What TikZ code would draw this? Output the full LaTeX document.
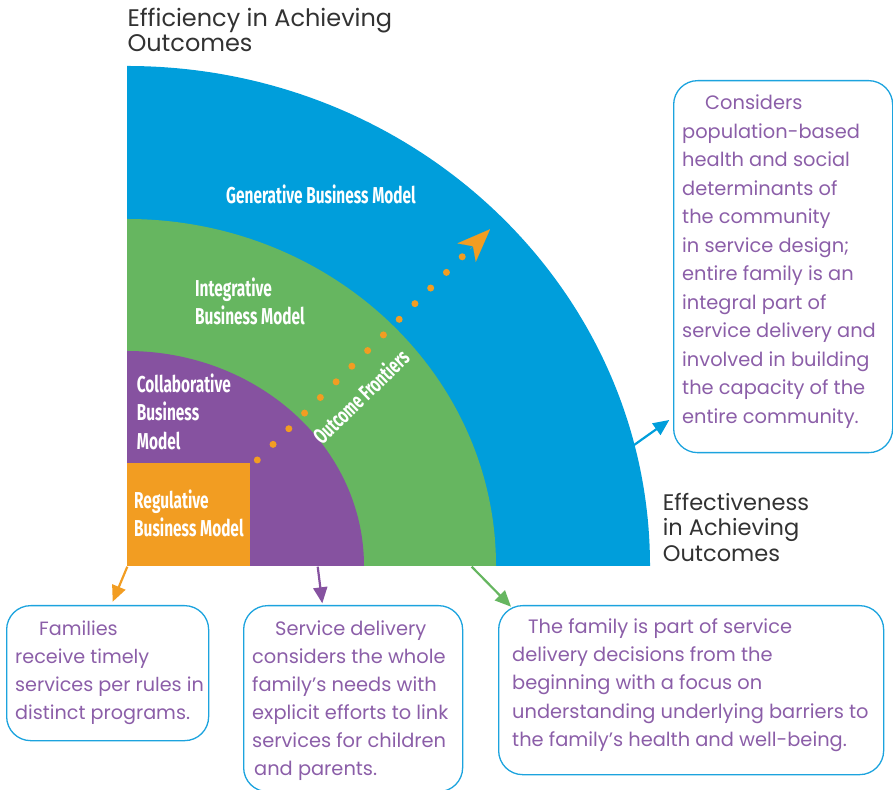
\documentclass[tikz,border=0pt]{standalone}
\usepackage{fontspec}
\setmainfont{Poppins}
\newfontfamily\labfont{Fira Sans}[FakeStretch=0.67]
\usetikzlibrary{arrows.meta}
\definecolor{cblue}{RGB}{0,158,219}
\definecolor{cgreen}{RGB}{102,182,96}
\definecolor{cpurple}{RGB}{134,82,160}
\definecolor{corange}{RGB}{242,157,34}
\definecolor{ctext}{RGB}{139,94,168}
\definecolor{cline}{RGB}{28,163,222}
\definecolor{cgray}{RGB}{50,50,50}
\tikzset{
  lab/.style={text=white, inner sep=0pt, font=\labfont\bfseries\fontsize{23}{28.3}\selectfont, align=left},
  axis/.style={text=cgray, inner sep=0pt, align=left},
  box/.style={draw=cline, line width=1.3pt, rounded corners=24pt, anchor=north west, inner sep=0pt},
  boxtext/.style={text=ctext, inner sep=0pt, align=left, anchor=base west},
  conn/.style={line width=2.2pt, -{Triangle[length=16pt,width=14pt]}}
}
\begin{document}
\begin{tikzpicture}[x=1pt,y=1pt]
\useasboundingbox (0,0) rectangle (893,789);
% quarter rings
\fill[cblue] (127,223) -- (650,223) arc[start angle=0,end angle=90,x radius=523pt,y radius=500pt] -- cycle;
\fill[cgreen] (127,223) -- (496,223) arc[start angle=0,end angle=90,x radius=369pt,y radius=347pt] -- cycle;
\fill[cpurple] (127,223) -- (364,223) arc[start angle=0,end angle=90,x radius=237pt,y radius=215pt] -- cycle;
\fill[corange] (127,223) rectangle (250,325.5);
% labels (anchor = baseline of last line)
\node[lab, anchor=base west] (gen) at (226,585.5) {Generative Business Model};
\node[lab, anchor=base west] (int) at (195,464) {Integrative\\Business Model};
\node[lab, anchor=base west] (col) at (136.7,339.7) {Collaborative\\Business\\Model};
\node[lab, anchor=base west] (reg) at (134,252.3) {Regulative\\Business Model};
\node[lab, font=\labfont\bfseries\fontsize{22}{24}\selectfont, rotate=44] (front) at (360.5,392.5) {Outcome Frontiers};
% dotted frontier arrow
\coordinate (d0) at (257.3,329);
\coordinate (d13) at (463.0,533.0);
\coordinate (tipback) at (470,539.8);
\coordinate (tip) at (490,559.7);
\draw[corange, line width=7pt, line cap=round, dash pattern=on 0pt off 22.2pt] (d0) -- (d13);
\draw[corange, line width=0.1pt, -{Stealth[length=33pt,width=26pt,inset=9pt]}] (tipback) -- (tip);
% axis titles
\node[axis, anchor=base west, font=\fontsize{24}{25}\selectfont] (yax) at (127.3,737.3) {Efficiency in Achieving\\Outcomes};
\node[axis, anchor=base west, font=\fontsize{22.5}{25.8}\selectfont] (xax) at (662.7,227.3) {Effectiveness\\in Achieving\\Outcomes};
% boxes
\node[box, minimum width=202pt, minimum height=135pt] (boxA) at (6,184) {};
\node[box, minimum width=219pt, minimum height=186pt] (boxB) at (243,184) {};
\node[box, minimum width=385pt, minimum height=169pt] (boxC) at (498,184) {};
\node[box, minimum width=219pt, minimum height=372pt] (boxD) at (673,709) {};
\node[boxtext, font=\fontsize{19.2}{28}\selectfont] (tA) at (15,70) {\hspace*{24pt}Families\\receive timely\\services per rules in\\distinct programs.};
\node[boxtext, font=\fontsize{19.4}{28}\selectfont] (tB) at (252,14) {\hspace*{23pt}Service delivery\\considers the whole\\family’s needs with\\explicit efforts to link\\services for children\\\hspace*{2pt}and parents.};
\node[boxtext, font=\fontsize{19.4}{28.3}\selectfont] (tC) at (512,42.5) {\hspace*{16pt}The family is part of service\\delivery decisions from the\\beginning with a focus on\\understanding underlying barriers to\\the family’s health and well-being.};
\node[boxtext, font=\fontsize{19.4}{28.5}\selectfont] (tD) at (682,365.5) {\hspace*{23pt}Considers\\population-based\\health and social\\determinants of\\the community\\in service design;\\entire family is an\\integral part of\\service delivery and\\involved in building\\the capacity of the\\entire community.};
% connectors
\coordinate (sA) at (127.3,222.3);
\coordinate (eA) at (112.7,187.3);
\coordinate (sB) at (317.7,222.3);
\coordinate (eB) at (322.3,185.7);
\coordinate (sC) at (471.7,222.3);
\coordinate (eC) at (511,182.3);
\coordinate (sD) at (631.7,342.3);
\coordinate (eD) at (669.3,369);
\draw[conn, corange] (sA) -- (eA);
\draw[conn, cpurple] (sB) -- (eB);
\draw[conn, cgreen] (sC) -- (eC);
\draw[conn, cblue] (sD) -- (eD);
\end{tikzpicture}
\end{document}
